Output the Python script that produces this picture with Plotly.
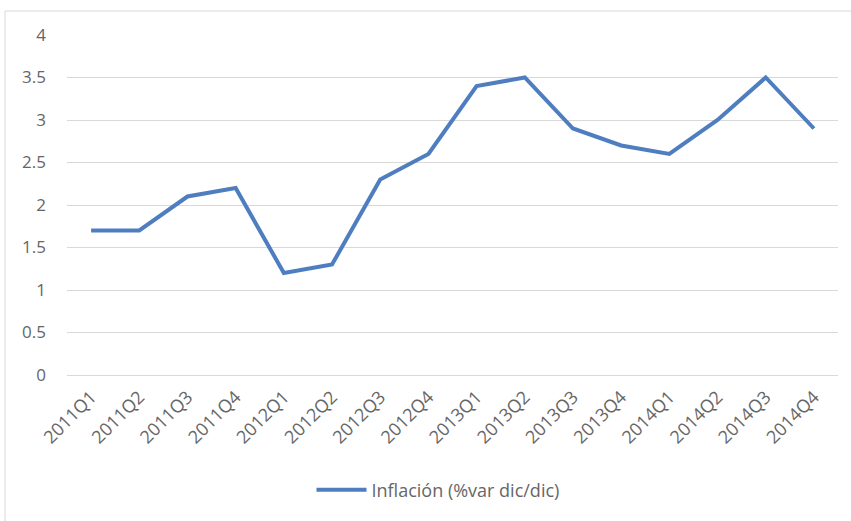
import plotly.graph_objects as go

categories = ["2011Q1", "2011Q2", "2011Q3", "2011Q4", "2012Q1", "2012Q2", "2012Q3", "2012Q4",
              "2013Q1", "2013Q2", "2013Q3", "2013Q4", "2014Q1", "2014Q2", "2014Q3", "2014Q4"]
inflacion = [1.7, 1.7, 2.1, 2.2, 1.2, 1.3, 2.3, 2.6, 3.4, 3.5, 2.9, 2.7, 2.6, 3.0, 3.5, 2.9]
y_ticks = [0, 0.5, 1, 1.5, 2, 2.5, 3, 3.5, 4]
series_name = "Inflación (%var dic/dic)"

fig = go.Figure()
fig.add_trace(go.Scatter(
    x=categories, y=inflacion, mode="lines", name=series_name,
    line=dict(color="#4E7EC0", width=4),
))

L, R, T, B = 67, 13, 35, 146
W, H = 851, 521
pw, ph = W - L - R, H - T - B
FONT = "Open Sans, Liberation Sans, sans-serif"
GREY = "#666666"

fig.update_layout(
    width=W, height=H,
    margin=dict(l=L, r=R, t=T, b=B),
    paper_bgcolor="white", plot_bgcolor="white",
    font=dict(family=FONT, size=17, color=GREY),
    showlegend=True,
    legend=dict(orientation="h", x=(438 - L) / pw, xanchor="center", y=(375 - 490) / ph,
                yanchor="middle", font=dict(size=18, color=GREY), itemwidth=50),
    xaxis=dict(type="category", range=[-0.5, len(categories) - 0.5], showgrid=False,
               showline=False, ticks="", tickangle=-45, ticklabelstandoff=7,
               tickfont=dict(size=18, color=GREY)),
    yaxis=dict(range=[0, 4], tickvals=y_ticks, ticktext=[f"{v:g}" for v in y_ticks],
               showgrid=True, gridcolor="#D9D9D9", gridwidth=1, zeroline=True,
               zerolinecolor="#D9D9D9", zerolinewidth=1, showline=False, ticks="",
               ticklabelstandoff=20, tickfont=dict(size=17, color=GREY)),
)

# chart frame border
x0 = (5 - L) / pw
x1 = (W + 5 - L) / pw
y1 = (375 - 11) / ph
y0 = (375 - (H + 5)) / ph
fig.add_shape(type="rect", xref="paper", yref="paper", x0=x0, x1=x1, y0=y0, y1=y1,
              line=dict(color="#D9D9D9", width=1), fillcolor="rgba(0,0,0,0)", layer="below")

fig.write_html("out.html")
